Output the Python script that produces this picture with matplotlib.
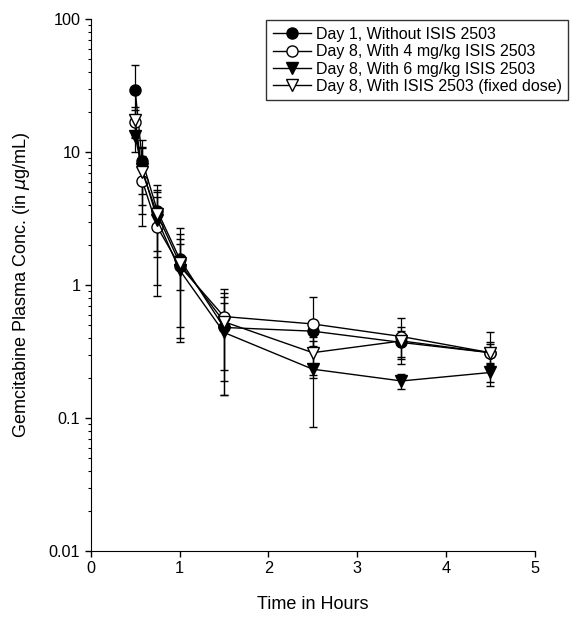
import matplotlib
matplotlib.use("Agg")
import matplotlib.pyplot as plt
from matplotlib.ticker import LogLocator, NullFormatter

plt.rcParams['font.family'] = ['Liberation Sans', 'DejaVu Sans']

time = [0.5, 0.58, 0.75, 1.0, 1.5, 2.5, 3.5, 4.5]

labels = ["Day 1, Without ISIS 2503",
          "Day 8, With 4 mg/kg ISIS 2503",
          "Day 8, With 6 mg/kg ISIS 2503",
          "Day 8, With ISIS 2503 (fixed dose)"]

day1 = [29.4, 8.6, 3.62, 1.58, 0.48, 0.45, 0.37, 0.31]
day1_sd = [16.0, 3.8, 2.0, 1.1, 0.33, 0.10, 0.08, 0.05]

d8_4mg = [16.8, 6.1, 2.73, 1.40, 0.58, 0.51, 0.41, 0.31]
d8_4mg_sd = [4.0, 3.3, 1.9, 1.0, 0.35, 0.31, 0.155, 0.135]

d8_6mg = [13.1, 7.5, 3.1, 1.30, 0.44, 0.233, 0.19, 0.22]
d8_6mg_sd = [3.0, 3.5, 2.1, 0.93, 0.29, 0.147, 0.025, 0.034]

d8_fixed = [17.5, 7.1, 3.4, 1.47, 0.53, 0.31, 0.38, 0.31]
d8_fixed_sd = [4.5, 3.7, 1.6, 0.55, 0.34, 0.10, 0.10, 0.06]

series = [
    (day1, day1_sd, 'o', 'black'),
    (d8_4mg, d8_4mg_sd, 'o', 'white'),
    (d8_6mg, d8_6mg_sd, 'v', 'black'),
    (d8_fixed, d8_fixed_sd, 'v', 'white'),
]

fig = plt.figure(figsize=(5.78, 6.17), dpi=100)
ax = fig.add_axes([0.157, 0.107, 0.768, 0.862])

handles = []
for (vals, sd, mk, fc), lab in zip(series, labels):
    h = ax.errorbar(time, vals, yerr=sd, fmt='-', color='black', lw=1.0,
                    marker=mk, markersize=8, markerfacecolor=fc,
                    markeredgecolor='black', markeredgewidth=1.0,
                    ecolor='black', elinewidth=0.9, capsize=3, capthick=0.9,
                    label=lab)
    handles.append(h)

ax.set_yscale('log')
ax.set_xlim(0, 5)
ax.set_ylim(0.01, 100)
ax.set_xticks([0, 1, 2, 3, 4, 5])
ax.set_yticks([0.01, 0.1, 1, 10, 100])
ax.set_yticklabels(['0.01', '0.1', '1', '10', '100'])
ax.yaxis.set_minor_locator(LogLocator(base=10, subs=range(2, 10)))
ax.yaxis.set_minor_formatter(NullFormatter())
ax.spines['top'].set_visible(False)
ax.spines['right'].set_visible(False)
ax.tick_params(axis='both', which='major', direction='out', length=4,
               width=1, labelsize=11.7, colors='black')
ax.tick_params(axis='y', which='minor', direction='out', length=2.5, width=0.8)
ax.set_xlabel('Time in Hours', fontsize=13, labelpad=14)
ax.set_ylabel(r'Gemcitabine Plasma Conc. (in $\mu$g/mL)', fontsize=13, labelpad=12)

leg = fig.legend(handles=[h[0] for h in handles], labels=labels,
                 loc='upper right', bbox_to_anchor=(0.997, 0.98),
                 fontsize=11.5, frameon=True, fancybox=False, edgecolor='black',
                 handlelength=2.4, borderpad=0.4, labelspacing=0.15,
                 handletextpad=0.3)
leg.get_frame().set_linewidth(1.0)

fig.savefig('out.png', dpi=100)
